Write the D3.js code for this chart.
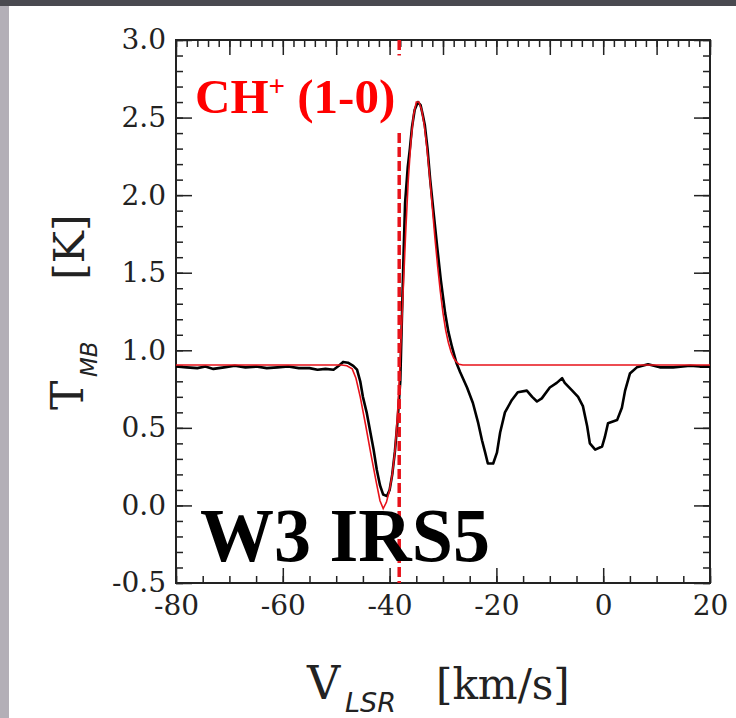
<!DOCTYPE html>
<html>
<head>
<meta charset="utf-8">
<script src="https://cdn.jsdelivr.net/npm/d3@7"></script>
<style>
  html, body { margin: 0; padding: 0; background: #fff; }
  svg { display: block; }
</style>
</head>
<body>
<svg id="chart" width="736" height="718"></svg>
<script>
const obsV = [-80, -78, -76, -74.5, -73, -71, -69, -67, -65, -63, -61, -59, -57, -55, -53.5, -52, -50.5,
  -49.5, -48.7, -47.8, -46.8, -46.1, -45.5, -45, -44.3, -43.7, -43, -42.4, -41.8, -41.2, -40.5, -40,
  -39.5, -39, -38.5, -38, -37.7, -37.4, -37.1, -36.6, -36.2, -35.8, -35.3, -34.7, -34.2, -33.8, -33.4,
  -32.9, -32.4, -31.8, -31.1, -30.4, -29.6, -29, -28.3, -27.5, -26.8, -25.5, -24.4, -23.4, -22.7, -22.1,
  -21.6, -20.6, -19.9, -19.3, -18.4, -17.1, -16, -14.3, -13.3, -12.4, -11.5, -10, -8.7, -7.7, -7.2, -5.8,
  -4.7, -3.8, -3, -2.5, -1.5, -0.2, 0.3, 0.9, 2.6, 3.5, 4.1, 5, 6.3, 8.4, 10.6, 13.1, 16.3, 18.1, 20];
const obsT = [0.895, 0.89, 0.885, 0.895, 0.88, 0.89, 0.9, 0.89, 0.895, 0.885, 0.89, 0.895, 0.885, 0.885, 0.875, 0.88, 0.875,
  0.9, 0.925, 0.92, 0.9, 0.875, 0.8, 0.7, 0.6, 0.49, 0.36, 0.23, 0.13, 0.07, 0.06, 0.1,
  0.2, 0.35, 0.55, 0.8, 1.2, 1.6, 1.95, 2.18, 2.3, 2.44, 2.55, 2.6, 2.58, 2.52, 2.45,
  2.3, 2.1, 1.9, 1.67, 1.45, 1.24, 1.12, 1.02, 0.92, 0.86, 0.76, 0.66, 0.53, 0.42, 0.34,
  0.27, 0.27, 0.34, 0.47, 0.6, 0.68, 0.73, 0.74, 0.7, 0.67, 0.69, 0.76, 0.79, 0.82, 0.79, 0.74,
  0.7, 0.64, 0.51, 0.4, 0.36, 0.38, 0.44, 0.53, 0.55, 0.63, 0.74, 0.85, 0.89, 0.91, 0.89, 0.89, 0.9, 0.895, 0.895];

// fitted model (red)
const fitV = [-80, -49, -48, -47, -46.3, -45.5, -44.5, -43.5, -42.5, -41.8, -41.2, -40.6, -40, -39.5, -39,
  -38.5, -38, -37.5, -37, -36.5, -36, -35.5, -35, -34.5, -34, -33.5, -33, -32.5, -32, -31.5, -31, -30.5,
  -30, -29.5, -29, -28.5, -28, -27.5, -27, -26.3, 20];
const fitT = [0.905, 0.905, 0.9, 0.88, 0.82, 0.7, 0.52, 0.33, 0.15, 0.03, -0.02, 0.02, 0.1, 0.2, 0.35,
  0.6, 0.95, 1.35, 1.75, 2.1, 2.35, 2.52, 2.6, 2.6, 2.55, 2.45, 2.3, 2.12, 1.92, 1.72, 1.54, 1.38,
  1.24, 1.13, 1.05, 0.99, 0.95, 0.925, 0.91, 0.905, 0.905];

const lineV = -38.2;   // systemic velocity marker
const xMajor = [-80, -60, -40, -20, 0, 20];
const yMajor = [-0.5, 0, 0.5, 1.0, 1.5, 2.0, 2.5, 3.0];

const svg = d3.select("#chart");

// page frame remnants
svg.append("rect").attr("x", 0).attr("y", 0).attr("width", 736).attr("height", 718).attr("fill", "#fff");
svg.append("rect").attr("x", 0).attr("y", 0).attr("width", 9).attr("height", 718).attr("fill", "#b3afb7");
svg.append("rect").attr("x", 0).attr("y", 0).attr("width", 736).attr("height", 6).attr("fill", "#4a4a50");

const x = d3.scaleLinear().domain([-80, 20]).range([176, 710]);
const y = d3.scaleLinear().domain([-0.5, 3]).range([583, 40]);

const fmtX = d => String(d);
const fmtY = d => d.toFixed(1);

function styleAxis(g) {
    g.select(".domain").remove();
    g.selectAll("line").attr("stroke", "#222").attr("stroke-width", 1.5);
    g.selectAll("text").attr("fill", "#222")
        .style("font-family", "'DejaVu Serif', serif").style("font-size", "28px");
}

const minorX2 = d3.range(-80, 20.01, 2);
const minorX5 = d3.range(-80, 20.01, 5);
const minorY = d3.range(-0.5, 3.001, 0.1);

// bottom
svg.append("g").attr("transform", "translate(0,583)")
    .call(d3.axisBottom(x).tickValues(minorX5).tickSize(-7).tickFormat("")).call(styleAxis);
svg.append("g").attr("transform", "translate(0,583)")
    .call(d3.axisBottom(x).tickValues(xMajor).tickSize(-15).tickPadding(12).tickFormat(fmtX)).call(styleAxis);
// top
svg.append("g").attr("transform", "translate(0,40)")
    .call(d3.axisTop(x).tickValues(minorX2).tickSize(-7).tickFormat("")).call(styleAxis);
svg.append("g").attr("transform", "translate(0,40)")
    .call(d3.axisTop(x).tickValues(d3.range(-80, 20.01, 10)).tickSize(-15).tickFormat("")).call(styleAxis);
// left
svg.append("g").attr("transform", "translate(176,0)")
    .call(d3.axisLeft(y).tickValues(minorY).tickSize(-7).tickFormat("")).call(styleAxis);
svg.append("g").attr("transform", "translate(176,0)")
    .call(d3.axisLeft(y).tickValues(yMajor).tickSize(-16).tickPadding(10).tickFormat(fmtY)).call(styleAxis);
// right
svg.append("g").attr("transform", "translate(710,0)")
    .call(d3.axisRight(y).tickValues(minorY).tickSize(-7).tickFormat("")).call(styleAxis);
svg.append("g").attr("transform", "translate(710,0)")
    .call(d3.axisRight(y).tickValues(yMajor).tickSize(-16).tickFormat("")).call(styleAxis);

// frame
svg.append("rect")
    .attr("x", x(-80)).attr("y", y(3))
    .attr("width", x(20) - x(-80)).attr("height", y(-0.5) - y(3))
    .attr("fill", "none").attr("stroke", "#222").attr("stroke-width", 2);

const line = d3.line().x(d => x(d[0])).y(d => y(d[1]));

// observed spectrum
svg.append("path")
    .datum(d3.zip(obsV, obsT))
    .attr("fill", "none").attr("stroke", "#000").attr("stroke-width", 2.6)
    .attr("stroke-linejoin", "round")
    .attr("d", line);

// fit
svg.append("path")
    .datum(d3.zip(fitV, fitT))
    .attr("fill", "none").attr("stroke", "#e8121a").attr("stroke-width", 1.6)
    .attr("d", line);

// velocity marker, broken by the label
[[3.0, 2.9], [2.4, -0.5]].forEach(seg => {
    svg.append("line")
        .attr("x1", x(lineV)).attr("x2", x(lineV))
        .attr("y1", y(seg[0])).attr("y2", y(seg[1]))
        .attr("stroke", "#e8121a").attr("stroke-width", 3.5)
        .attr("stroke-dasharray", "10,4");
});

// labels
const lbl = svg.append("text")
    .attr("x", 195).attr("y", 113)
    .attr("fill", "#f00")
    .style("font-family", "'Liberation Serif', serif").style("font-weight", "bold").style("font-size", "49px");
lbl.append("tspan").text("CH");
lbl.append("tspan").attr("dy", -17).style("font-size", "29px").text("+");
lbl.append("tspan").attr("dy", 17).text(" (1-0)");

svg.append("text")
    .attr("x", 200).attr("y", 561)
    .attr("fill", "#000")
    .attr("textLength", 290).attr("lengthAdjust", "spacingAndGlyphs")
    .style("font-family", "'Liberation Serif', serif").style("font-weight", "bold").style("font-size", "76px")
    .text("W3 IRS5");

// y axis title
svg.append("text")
    .attr("transform", "translate(83,410) rotate(-90)")
    .style("font-family", "'DejaVu Serif', serif").style("font-size", "44px").attr("fill", "#222")
    .text("T");
svg.append("text")
    .attr("transform", "translate(97,377) rotate(-90)")
    .style("font-family", "'DejaVu Sans', sans-serif").style("font-style", "italic").style("font-size", "23px").attr("fill", "#222")
    .text("MB");
svg.append("text")
    .attr("transform", "translate(84,280) rotate(-90)")
    .style("font-family", "'DejaVu Serif', serif").style("font-size", "43px").attr("fill", "#222")
    .text("[K]");

// x axis title
svg.append("text")
    .attr("x", 307).attr("y", 699)
    .style("font-family", "'DejaVu Serif', serif").style("font-size", "46px").attr("fill", "#222")
    .text("V");
svg.append("text")
    .attr("x", 345).attr("y", 712)
    .style("font-family", "'DejaVu Sans', sans-serif").style("font-style", "italic").style("font-size", "27px").attr("fill", "#222")
    .text("LSR");
svg.append("text")
    .attr("x", 436).attr("y", 699)
    .style("font-family", "'DejaVu Serif', serif").style("font-size", "42px").attr("fill", "#222")
    .text("[km/s]");
</script>
</body>
</html>
